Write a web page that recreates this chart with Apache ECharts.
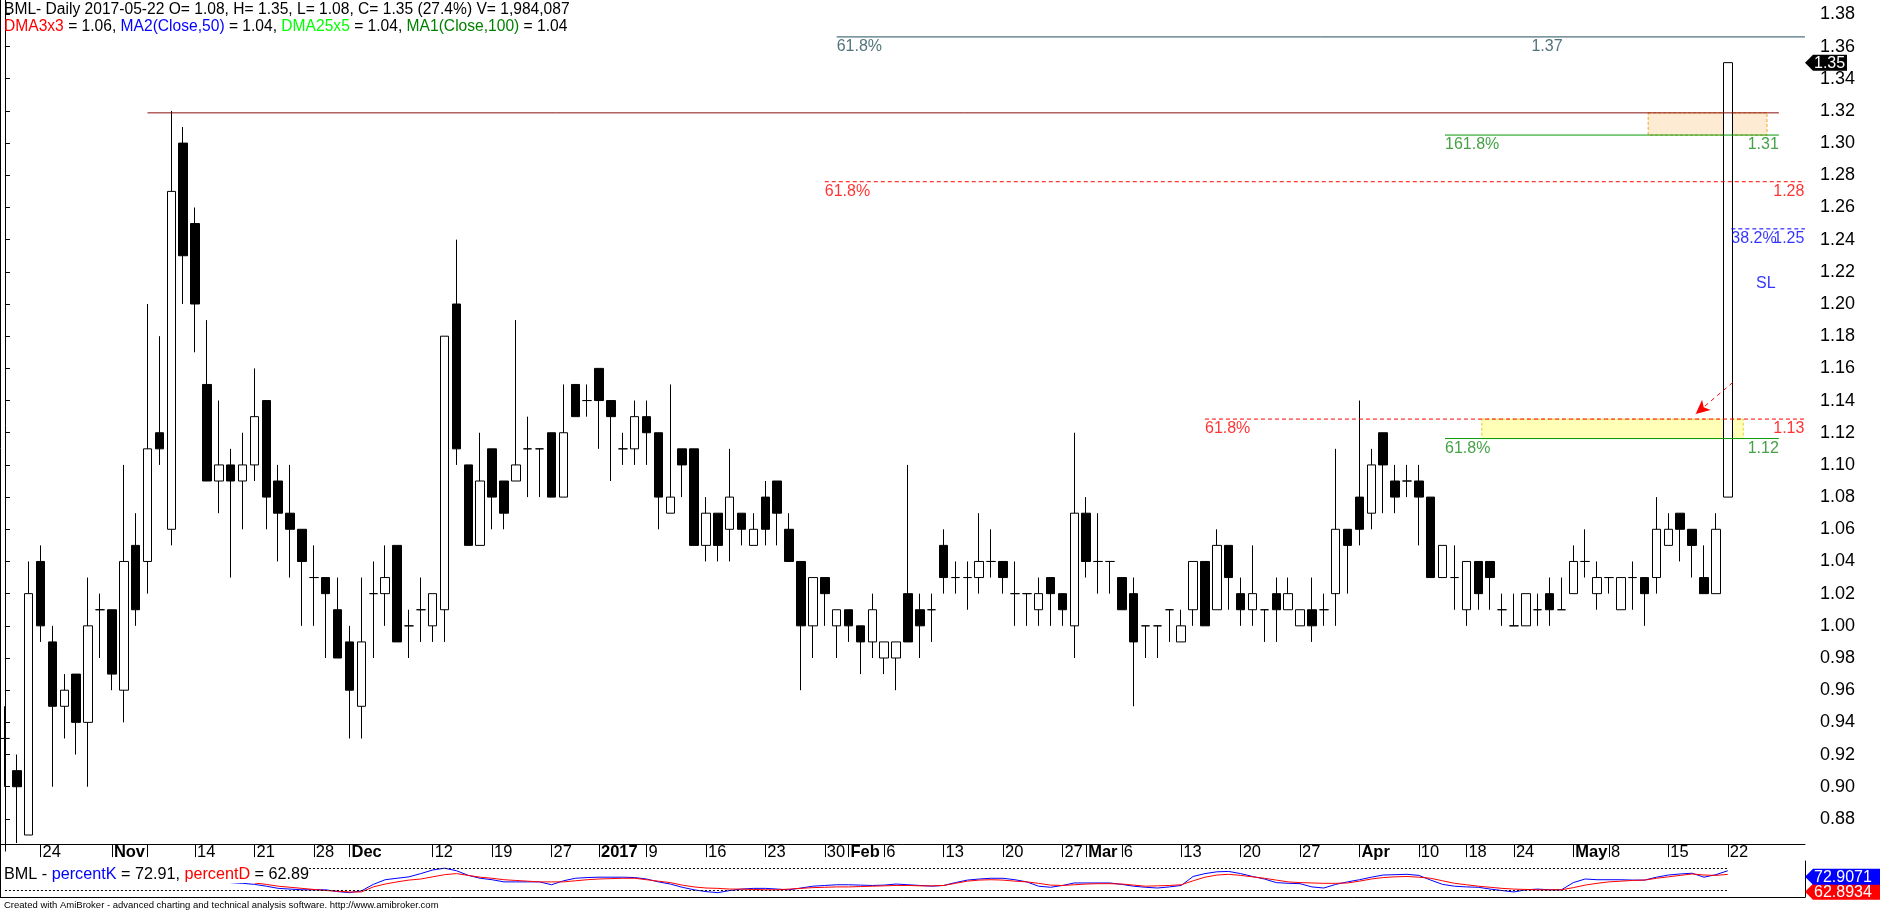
<!DOCTYPE html>
<html><head><meta charset="utf-8">
<script src="https://cdn.jsdelivr.net/npm/echarts@6.0.0/dist/echarts.min.js"></script>
<style>html,body{margin:0;padding:0;background:#fff}#c{width:1880px;height:911px}</style>
</head><body><div id="c"></div>
<script>
// ---------- DATA ----------
const dates = ['2016-10-19','2016-10-20','2016-10-21','2016-10-24','2016-10-25','2016-10-26','2016-10-27','2016-10-28','2016-10-31','2016-11-01',
'2016-11-02','2016-11-03','2016-11-07','2016-11-08','2016-11-09','2016-11-10','2016-11-14','2016-11-15','2016-11-16','2016-11-17',
'2016-11-18','2016-11-21','2016-11-22','2016-11-23','2016-11-24','2016-11-25','2016-11-28','2016-11-29','2016-11-30','2016-12-01',
'2016-12-02','2016-12-05','2016-12-06','2016-12-07','2016-12-08','2016-12-09','2016-12-12','2016-12-13','2016-12-14','2016-12-15',
'2016-12-16','2016-12-19','2016-12-20','2016-12-21','2016-12-22','2016-12-23','2016-12-27','2016-12-28','2016-12-29','2016-12-30',
'2017-01-03','2017-01-04','2017-01-05','2017-01-06','2017-01-09','2017-01-10','2017-01-11','2017-01-12','2017-01-13','2017-01-16',
'2017-01-17','2017-01-18','2017-01-19','2017-01-20','2017-01-23','2017-01-24','2017-01-25','2017-01-26','2017-01-27','2017-01-30',
'2017-01-31','2017-02-01','2017-02-02','2017-02-03','2017-02-06','2017-02-07','2017-02-08','2017-02-09','2017-02-10','2017-02-13',
'2017-02-14','2017-02-15','2017-02-16','2017-02-17','2017-02-20','2017-02-21','2017-02-22','2017-02-23','2017-02-24','2017-02-27',
'2017-02-28','2017-03-01','2017-03-02','2017-03-03','2017-03-06','2017-03-07','2017-03-08','2017-03-09','2017-03-10','2017-03-13',
'2017-03-14','2017-03-15','2017-03-16','2017-03-17','2017-03-20','2017-03-21','2017-03-22','2017-03-23','2017-03-24','2017-03-27',
'2017-03-28','2017-03-29','2017-03-30','2017-03-31','2017-04-03','2017-04-04','2017-04-05','2017-04-06','2017-04-07','2017-04-10',
'2017-04-11','2017-04-12','2017-04-13','2017-04-18','2017-04-19','2017-04-20','2017-04-21','2017-04-24','2017-04-25','2017-04-26',
'2017-04-27','2017-04-28','2017-05-01','2017-05-02','2017-05-03','2017-05-08','2017-05-09','2017-05-10','2017-05-11','2017-05-12',
'2017-05-15','2017-05-16','2017-05-17','2017-05-18','2017-05-19','2017-05-22'];

const opens = [0.93,0.91,0.87,1.04,0.99,0.95,0.97,0.94,1.01,1.01, 0.96,1.05,1.04,1.12,1.06,1.30,1.25,1.15,1.09,1.10,
1.09,1.10,1.14,1.09,1.07,1.06,1.03,1.03,1.01,0.99, 0.95,1.02,1.02,1.05,1.00,1.01,1.00,1.01,1.20,1.10,
1.05,1.11,1.09,1.09,1.11,1.11,1.12,1.08,1.15,1.14, 1.16,1.14,1.11,1.11,1.13,1.12,1.07,1.11,1.11,1.05,
1.07,1.06,1.07,1.05,1.08,1.09,1.06,1.04,1.00,1.03, 1.00,1.01,1.00,0.99,0.98,0.98,1.02,1.01,1.01,1.05,
1.03,1.03,1.03,1.04,1.04,1.02,1.02,1.01,1.03,1.02, 1.00,1.07,1.04,1.04,1.03,1.02,1.00,1.00,1.01,0.99,
1.01,1.04,1.01,1.05,1.02,1.01,1.01,1.02,1.01,1.00, 1.01,1.01,1.02,1.06,1.08,1.07,1.12,1.09,1.09,1.09,
1.08,1.03,1.03,1.01,1.04,1.04,1.01,1.00,1.00,1.01, 1.02,1.01,1.02,1.04,1.02,1.03,1.01,1.03,1.03,1.03,
1.05,1.07,1.06,1.03,1.02,1.08];
const highs = [0.95,0.92,1.04,1.05,1.00,0.97,0.97,1.03,1.02,1.01, 1.10,1.07,1.20,1.18,1.32,1.31,1.26,1.19,1.14,1.11,
1.12,1.16,1.14,1.10,1.10,1.06,1.05,1.03,1.03,1.00, 1.03,1.04,1.05,1.05,1.01,1.03,1.02,1.18,1.24,1.10,
1.12,1.11,1.09,1.19,1.13,1.11,1.12,1.15,1.15,1.15, 1.16,1.14,1.12,1.14,1.14,1.12,1.15,1.11,1.11,1.08,
1.07,1.11,1.07,1.07,1.09,1.09,1.07,1.04,1.03,1.03, 1.01,1.01,1.00,1.02,0.99,0.99,1.10,1.02,1.02,1.06,
1.04,1.04,1.07,1.06,1.04,1.04,1.02,1.03,1.03,1.02, 1.12,1.08,1.07,1.04,1.03,1.03,1.00,1.00,1.01,1.01,
1.04,1.04,1.06,1.05,1.03,1.05,1.01,1.03,1.03,1.01, 1.03,1.02,1.11,1.06,1.14,1.11,1.12,1.10,1.10,1.10,
1.08,1.05,1.05,1.04,1.04,1.04,1.02,1.02,1.02,1.02, 1.03,1.03,1.05,1.06,1.04,1.03,1.03,1.04,1.03,1.08,
1.07,1.07,1.06,1.05,1.07,1.35];
const lows = [0.90,0.865,0.87,0.99,0.90,0.93,0.92,0.90,0.98,0.96, 0.94,1.00,1.02,1.10,1.05,1.20,1.17,1.09,1.07,1.03,
1.06,1.09,1.06,1.04,1.03,1.00,1.00,0.98,0.98,0.93, 0.93,0.98,1.00,0.99,0.98,0.99,0.99,0.99,1.10,1.05,
1.05,1.06,1.06,1.09,1.08,1.08,1.08,1.08,1.13,1.13, 1.11,1.09,1.10,1.10,1.10,1.06,1.07,1.08,1.05,1.04,
1.04,1.04,1.05,1.05,1.05,1.05,1.04,0.96,0.98,1.00, 0.98,0.99,0.97,0.98,0.97,0.96,0.99,0.98,0.99,1.02,
1.02,1.01,1.02,1.03,1.02,1.00,1.00,1.00,1.00,1.00, 0.98,1.03,1.02,1.02,1.01,0.95,0.98,0.98,0.99,0.99,
1.00,1.00,1.01,1.01,1.00,1.00,0.99,0.99,1.01,1.00, 0.99,1.00,1.00,1.02,1.05,1.06,1.07,1.07,1.08,1.05,
1.03,1.03,1.01,1.00,1.01,1.01,1.00,1.00,1.00,1.00, 1.00,1.01,1.02,1.03,1.01,1.02,1.01,1.01,1.00,1.02,
1.05,1.04,1.03,1.02,1.02,1.08];
const closes = [0.93,0.90,1.02,1.00,0.95,0.96,0.94,1.00,1.01,0.97, 1.04,1.01,1.11,1.11,1.27,1.23,1.20,1.09,1.10,1.09,
1.10,1.13,1.08,1.07,1.06,1.04,1.03,1.02,0.98,0.96, 0.99,1.02,1.03,0.99,1.00,1.01,1.02,1.18,1.11,1.05,
1.09,1.08,1.07,1.10,1.11,1.11,1.08,1.12,1.13,1.14, 1.14,1.13,1.11,1.13,1.12,1.08,1.08,1.10,1.05,1.07,
1.05,1.08,1.06,1.06,1.06,1.07,1.04,1.00,1.03,1.02, 1.01,1.00,0.99,1.01,0.99,0.99,0.99,1.00,1.01,1.03,
1.03,1.03,1.04,1.04,1.03,1.02,1.02,1.02,1.02,1.01, 1.07,1.04,1.04,1.04,1.01,0.99,1.00,1.00,1.01,1.00,
1.04,1.00,1.05,1.03,1.01,1.02,1.01,1.01,1.02,1.01, 1.00,1.01,1.06,1.05,1.06,1.10,1.10,1.08,1.09,1.08,
1.03,1.05,1.03,1.04,1.02,1.03,1.01,1.00,1.02,1.01, 1.01,1.01,1.04,1.04,1.03,1.03,1.03,1.03,1.02,1.06,
1.06,1.06,1.05,1.02,1.06,1.35];

const pctK = [null,null,null,null,null,null,null,null,null,null, null,null,null,null,null,null,null,null,null,40,
38,35,30,24,22,20,20,20,15,12, 17,35,48,52,56,65,75,80,73,60, 52,48,42,42,42,42,34,45,52,54,
55,55,55,54,50,42,36,27,20,15, 12,18,22,24,24,22,20,25,30,32, 34,34,33,32,33,36,34,32,30,32,
40,47,50,52,52,48,42,30,27,32, 39,39,39,39,35,30,27,25,28,32, 57,65,70,71,65,57,50,40,38,37,
28,25,35,42,48,55,61,62,63,60, 47,35,30,28,27,22,18,14,20,22, 20,20,40,50,48,48,48,47,47,55,
61,64,66,55,62,72.91];
const pctD = [null,null,null,null,null,null,null,null,null,null, null,null,null,null,null,null,null,null,null,null,
null,39,35,30,27,24,21,18,16,14, 14,28,36,42,47,50,56,62,65,60, 55,52,48,46,44,42,42,42,45,48,
50,51,52,52,48,44,40,33,28,25, 24,22,22,21,20,20,22,24,26,27, 28,28,29,30,31,32,32,31,31,32,
38,44,47,48,47,44,42,38,33,32, 34,36,37,37,36,33,30,31,32,34, 45,55,61,63,60,56,52,47,42,40,
39,38,38,39,44,50,54,56,57,55, 52,45,38,34,30,27,24,22,21,20, 20,20,26,33,38,42,44,46,47,52,
56,60,64,61,60,62.89];

const tickIdx  = [3,9,12,16,21,26,29,36,41,46,50,54,59,64,69,71,74,79,84,89,91,94,99,104,109,114,119,123,127,132,135,140,145];
const tickText = ['24','Nov','','14','21','28','Dec','12','19','27','2017','9','16','23','30','Feb','6','13','20','27','Mar','6','13','20','27','Apr','10','18','24','May','8','15','22'];
const boldTicks = ['Nov','Dec','2017','Feb','Mar','Apr','May'];
const padSlots = 6;

// Fibonacci / trend annotations (x in bar-index units, y in price)
const fibLevel     = [1.366, 1.3188, 1.305, 1.276, 1.2467, 1.1285, 1.1164];
const fibFrom      = [70, 12, 121.2, 69, 145.3, 101, 121.2];
const fibTo        = [151.5, 149.3, 149.3, 151.5, 151.5, 151.5, 149.3];
const fibLeftText  = ['61.8%', '', '161.8%', '61.8%', '38.2%', '61.8%', '61.8%'];
const fibRightText = ['1.37', '', '1.31', '1.28', '1.25', '1.13', '1.12'];
const fibRightAt   = [131.1, 149.3, 149.3, 151.45, 151.45, 151.45, 149.3];
const zoneOrange = [138.3, 148.3, 1.305, 1.3188];
const zoneYellow = [124.3, 146.3, 1.1164, 1.1285];
const arrowFrom = [145.4, 1.1511], arrowTo = [142.3, 1.1317];
const slNote = [148.2, 1.213, 'SL'];

// ---------- STYLE ----------
const FONT = '"Liberation Sans", Arial, sans-serif';
const fibColor = ['#24505c', '#8b1010', '#079a07', '#ff0000', '#0000ff', '#ff0000', '#079a07'];
const fibType  = ['solid', 'solid', 'solid', 'dashed', 'dashed', 'dashed', 'solid'];
const fibTextColor = ['#24505c', '#8b1010', '#168a16', '#ff0000', '#0000ff', '#ff0000', '#168a16'];

const nBars = dates.length;
const cats = dates.concat(Array.from({length: padSlots}, (_, i) => 'pad' + i));
const N = cats.length;
const tickSet = new Set(tickIdx);
const labelMap = {};
tickIdx.forEach((ix, k) => labelMap[ix] = tickText[k]);

const candleData = dates.map((d, i) => [opens[i], closes[i], lows[i], highs[i]]);

const chart = echarts.init(document.getElementById('c'), null, {renderer: 'canvas'});

const series = [];
series.push({
  type: 'candlestick', xAxisIndex: 0, yAxisIndex: 0, data: candleData, barWidth: 9, z: 3,
  itemStyle: {color: '#ffffff', color0: '#000000', borderColor: '#000000', borderColor0: '#000000', borderWidth: 1},
  emphasis: {disabled: true}, silent: true
});
fibLevel.forEach((lv, k) => {
  const s = {
    type: 'line', xAxisIndex: 1, yAxisIndex: 0, z: 4, silent: true, symbol: 'none',
    data: [[fibFrom[k], lv], [fibTo[k], lv]],
    lineStyle: {color: fibColor[k], width: 1, type: fibType[k] === 'dashed' ? [4, 3] : 'solid'}
  };
  if (k === 0) {
    s.markArea = {silent: true, z: 1, data: [
      [{coord: [zoneOrange[0], zoneOrange[3]], itemStyle: {color: '#fdebd3', borderColor: '#f5a623', borderWidth: 1, borderType: [3, 2]}}, {coord: [zoneOrange[1], zoneOrange[2]]}],
      [{coord: [zoneYellow[0], zoneYellow[3]], itemStyle: {color: '#ffffb8', borderColor: '#e0d020', borderWidth: 1, borderType: [3, 2]}}, {coord: [zoneYellow[1], zoneYellow[2]]}]
    ]};
    s.markLine = {silent: true, symbol: ['none', 'arrow'], symbolSize: [10, 14], label: {show: false},
      lineStyle: {color: '#ff0000', type: [4, 4], width: 1},
      data: [[{coord: arrowFrom}, {coord: arrowTo}]]};
  }
  series.push(s);
});
const labelItems = [];
fibLevel.forEach((lv, k) => {
  if (fibLeftText[k]) labelItems.push({value: [fibFrom[k], lv], label: {show: true, formatter: fibLeftText[k], color: fibTextColor[k], position: [0, 2], align: 'left', verticalAlign: 'top'}});
  if (fibRightText[k]) labelItems.push({value: [fibRightAt[k], lv], label: {show: true, formatter: fibRightText[k], color: fibTextColor[k], position: [0, 2], align: 'right', verticalAlign: 'top'}});
});
labelItems.push({value: [slNote[0], slNote[1]], label: {show: true, formatter: slNote[2], color: '#0000ff', position: [0, 0], align: 'center', verticalAlign: 'middle'}});
series.push({type: 'scatter', xAxisIndex: 1, yAxisIndex: 0, z: 4, silent: true, clip: false, symbolSize: 0, data: labelItems,
  label: {fontFamily: FONT, fontSize: 16}, labelLayout: {hideOverlap: false}});

series.push({type: 'line', xAxisIndex: 2, yAxisIndex: 1, data: pctK, symbol: 'none', silent: true, z: 3,
  lineStyle: {color: '#0000ff', width: 1},
  markLine: {silent: true, symbol: 'none', label: {show: false}, lineStyle: {color: '#000', type: [2, 2], width: 1},
    data: [[{coord: [dates[0], 80]}, {coord: [dates[nBars - 1], 80]}], [{coord: [dates[0], 20]}, {coord: [dates[nBars - 1], 20]}]]}});
series.push({type: 'line', xAxisIndex: 2, yAxisIndex: 1, data: pctD, symbol: 'none', silent: true, z: 3,
  lineStyle: {color: '#ff0000', width: 1}});

const option = {
  animation: false,
  backgroundColor: '#ffffff',
  grid: [
    {left: -1, right: 75, top: -17.8, height: 868.9, containLabel: false, outerBoundsMode: 'none'},
    {left: -1, right: 75, top: 861, height: 36, containLabel: false, outerBoundsMode: 'none'}
  ],
  xAxis: [
    {type: 'category', gridIndex: 0, data: cats, boundaryGap: true, offset: -7,
      axisLine: {show: true, lineStyle: {color: '#000', width: 1}},
      axisTick: {show: true, alignWithLabel: true, length: 13, lineStyle: {color: '#000'}, interval: (i) => tickSet.has(i)},
      axisLabel: {show: true, interval: (i) => tickSet.has(i) && labelMap[i] !== '', color: '#000', fontFamily: FONT, fontSize: 16.5,
        align: 'left', margin: 0, padding: [0, 0, 0, 2],
        formatter: (v, i) => { const t = labelMap[i] || ''; return boldTicks.includes(t) ? '{b|' + t + '}' : t; },
        rich: {b: {fontWeight: 'bold', fontFamily: FONT, fontSize: 16.5, color: '#000'}}},
      splitLine: {show: false}},
    {type: 'value', gridIndex: 0, min: -0.5, max: N - 0.5, show: false},
    {type: 'category', gridIndex: 1, data: cats, boundaryGap: true, position: 'top',
      axisLine: {show: true, lineStyle: {color: '#000', width: 1}}, axisTick: {show: false}, axisLabel: {show: false}, splitLine: {show: false}}
  ],
  yAxis: [
    {type: 'value', gridIndex: 0, position: 'right', min: 0.86, max: 1.40, interval: 0.02, z: 10,
      axisLine: {show: true, lineStyle: {color: '#000', width: 1}},
      axisTick: {show: true, length: 5, lineStyle: {color: '#000'}},
      axisLabel: {show: true, showMinLabel: false, showMaxLabel: false, color: '#000', fontFamily: FONT, fontSize: 18, margin: 15,
        formatter: (v) => v.toFixed(2)},
      splitLine: {show: false}},
    {type: 'value', gridIndex: 1, position: 'right', min: 0, max: 100, z: 10,
      axisLine: {show: true, lineStyle: {color: '#000', width: 1}}, axisTick: {show: false}, axisLabel: {show: false}, splitLine: {show: false}}
  ],
  series: series
};
chart.setOption(option);

// ---------- overlay text / value boxes (positioned through the chart's own scales) ----------
const axisX = chart.convertToPixel({xAxisIndex: 1}, N - 0.5);
const yPrice = chart.convertToPixel({yAxisIndex: 0}, closes[nBars - 1]);
const lastK = pctK[nBars - 1], lastD = pctD[nBars - 1];
const yK = chart.convertToPixel({yAxisIndex: 1}, lastK);
const yBoxK = yK + 6, yBoxD = yBoxK + 15;
function valueBox(yc, w, fill, text) {
  return {type: 'group', z: 30, children: [
    {type: 'polygon', z: 30, shape: {points: [[axisX, yc], [axisX + 8, yc - 8], [axisX + w, yc - 8], [axisX + w, yc + 8], [axisX + 8, yc + 8]]}, style: {fill: fill}},
    {type: 'text', z: 31, style: {text: text, x: axisX + 9, y: yc + 1, fill: '#fff', fontFamily: FONT, fontSize: 16, verticalAlign: 'middle'}}
  ]};
}
chart.setOption({graphic: [
  {type: 'rect', z: 5, silent: true, shape: {x: axisX + 1, y: 0, width: 1880 - axisX, height: 842}, style: {fill: '#fff'}},
  {type: 'line', z: 6, silent: true, shape: {x1: 0.5, y1: 0, x2: 0.5, y2: 897}, style: {stroke: '#000', lineWidth: 1}},
  {type: 'text', z: 20, silent: true, style: {x: 4, y: 2, fontFamily: FONT, fontSize: 15.6, fill: '#000',
    text: 'BML- Daily 2017-05-22 O= 1.08, H= 1.35, L= 1.08, C= 1.35 (27.4%) V= 1,984,087'}},
  {type: 'text', z: 20, silent: true, style: {x: 4, y: 19, fontFamily: FONT, fontSize: 15.6, fill: '#000',
    text: '{r|DMA3x3} = 1.06, {b|MA2(Close,50)} = 1.04, {g|DMA25x5} = 1.04, {dg|MA1(Close,100)} = 1.04',
    rich: {r: {fill: '#ff0000', fontFamily: FONT, fontSize: 15.6}, b: {fill: '#0000ff', fontFamily: FONT, fontSize: 15.6},
      g: {fill: '#00ff00', fontFamily: FONT, fontSize: 15.6}, dg: {fill: '#008000', fontFamily: FONT, fontSize: 15.6}}}},
  {type: 'text', z: 20, silent: true, style: {x: 4, y: 867, fontFamily: FONT, fontSize: 16.2, fill: '#000', backgroundColor: '#fff',
    text: 'BML - {b|percentK} = ' + lastK.toFixed(2) + ', {r|percentD} = ' + lastD.toFixed(2),
    rich: {b: {fill: '#0000ff', fontFamily: FONT, fontSize: 16.2}, r: {fill: '#ff0000', fontFamily: FONT, fontSize: 16.2}}}},
  {type: 'text', z: 20, silent: true, style: {x: 4, y: 900, fontFamily: FONT, fontSize: 9.5, fill: '#000',
    text: 'Created with AmiBroker - advanced charting and technical analysis software. http://www.amibroker.com'}},
  valueBox(yPrice, 42, '#000000', closes[nBars - 1].toFixed(2)),
  valueBox(yBoxD, 75, '#ff0000', '62.8934'),
  valueBox(yBoxK, 75, '#0000ff', '72.9071')
]});
</script></body></html>
